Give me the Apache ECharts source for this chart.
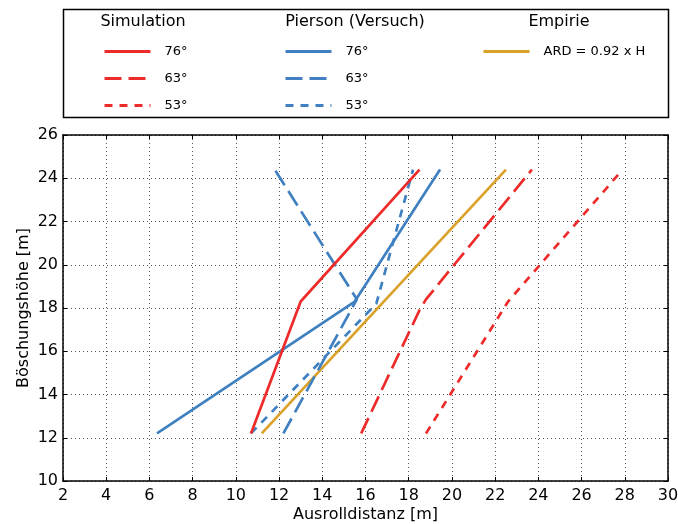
<!DOCTYPE html>
<html>
<head>
<meta charset="utf-8">
<script src="https://cdn.jsdelivr.net/npm/echarts@6/dist/echarts.min.js"></script>
<style>
  html, body { margin: 0; padding: 0; background: #fff; }
  #chart { width: 678px; height: 524px; }
</style>
</head>
<body>
<div id="chart"></div>
<script>
// Ausrolldistanz [m] vs Böschungshöhe [m]
const sim76 = [[10.7, 12.2], [13.0, 18.3], [18.5, 24.4]];
const sim63 = [[15.8, 12.2], [18.5, 17.9], [18.8, 18.4], [23.7, 24.4]];
const sim53 = [[18.8, 12.2], [22.6, 18.3], [27.9, 24.4]];
const pie76 = [[6.35, 12.2], [15.5, 18.3], [19.45, 24.4]];
const pie63 = [[12.2, 12.2], [15.6, 18.4], [11.8, 24.4]];
const pie53 = [[10.7, 12.2], [16.5, 18.2], [18.2, 24.4]];
const empirie = [[11.2, 12.2], [22.5, 24.4]];

const xTicks = [2, 30, 2]; // min, max, step
const yTicks = [10, 26, 2];

const RED = "#ee2b2b";
const BLUE = "#4080c0";
const GOLD = "#daa12b";
const FONT = "DejaVu Sans";
const LONG_DASH = [17, 7];
const SHORT_DASH = [8, 7];

const chart = echarts.init(document.getElementById("chart"));

function lineSeries(name, data, color, dash) {
  return {
    name: name,
    type: "line",
    data: data,
    symbol: "none",
    color: color,
    animation: false,
    lineStyle: { width: 2.7, color: color, type: dash, cap: "butt" },
  };
}

function legendBlock(names, left) {
  return {
    data: names,
    orient: "vertical",
    left: left,
    top: 45,
    padding: 0,
    itemWidth: 46,
    itemHeight: 14,
    itemGap: 14,
    itemStyle: { opacity: 0 },
    lineStyle: { width: 3 },
    formatter: (n) => n.slice(n.indexOf(" ") + 1),
    textStyle: { fontFamily: FONT, fontSize: 13, color: "#000", padding: [0, 0, 0, 9] },
  };
}

const hiddenAxis = {
  axisLine: { show: true, lineStyle: { color: "#000", width: 1.5 } },
  axisTick: { show: true, inside: true, length: 4, lineStyle: { color: "#000" } },
  axisLabel: { show: false },
  splitLine: { show: false },
};

chart.setOption({
  backgroundColor: "#fff",
  textStyle: { fontFamily: FONT },
  grid: { left: 63, right: 10, top: 135, bottom: 43, outerBoundsMode: "none" },
  graphic: [
    {
      type: "rect",
      shape: { x: 63.5, y: 9.5, width: 605, height: 108 },
      style: { fill: "none", stroke: "#000", lineWidth: 1.5 },
    },
    { type: "text", x: 143, y: 22, style: { text: "Simulation", fontFamily: FONT, fontSize: 16, fill: "#000", align: "center", verticalAlign: "middle" } },
    { type: "text", x: 355, y: 22, style: { text: "Pierson (Versuch)", fontFamily: FONT, fontSize: 16, fill: "#000", align: "center", verticalAlign: "middle" } },
    { type: "text", x: 559, y: 22, style: { text: "Empirie", fontFamily: FONT, fontSize: 16, fill: "#000", align: "center", verticalAlign: "middle" } },
  ],
  legend: [
    legendBlock(["Simulation 76°", "Simulation 63°", "Simulation 53°"], 103),
    legendBlock(["Pierson 76°", "Pierson 63°", "Pierson 53°"], 284),
    legendBlock(["Empirie ARD = 0.92 x H"], 482),
  ],
  xAxis: [
    {
      type: "value",
      min: xTicks[0],
      max: xTicks[1],
      interval: xTicks[2],
      name: "Ausrolldistanz [m]",
      nameLocation: "middle",
      nameGap: 26,
      nameMoveOverlap: false,
      nameTextStyle: { fontFamily: FONT, fontSize: 16, color: "#000" },
      axisLine: { show: true, lineStyle: { color: "#000", width: 1.5 } },
      axisTick: { show: true, inside: true, length: 4, lineStyle: { color: "#000" } },
      axisLabel: { fontFamily: FONT, fontSize: 16, color: "#000", margin: 7 },
      splitLine: { show: true, lineStyle: { color: "#555", width: 1, type: [1, 3] } },
    },
    Object.assign({ type: "value", position: "top", min: xTicks[0], max: xTicks[1], interval: xTicks[2] }, hiddenAxis),
  ],
  yAxis: [
    {
      type: "value",
      min: yTicks[0],
      max: yTicks[1],
      interval: yTicks[2],
      name: "Böschungshöhe [m]",
      nameLocation: "middle",
      nameGap: 31,
      nameMoveOverlap: false,
      nameTextStyle: { fontFamily: FONT, fontSize: 16, color: "#000" },
      axisLine: { show: true, lineStyle: { color: "#000", width: 1.5 } },
      axisTick: { show: true, inside: true, length: 4, lineStyle: { color: "#000" } },
      axisLabel: { fontFamily: FONT, fontSize: 16, color: "#000", margin: 5 },
      splitLine: { show: true, lineStyle: { color: "#555", width: 1, type: [1, 3] } },
    },
    Object.assign({ type: "value", position: "right", min: yTicks[0], max: yTicks[1], interval: yTicks[2] }, hiddenAxis),
  ],
  series: [
    lineSeries("Empirie ARD = 0.92 x H", empirie, GOLD, "solid"),
    lineSeries("Pierson 76°", pie76, BLUE, "solid"),
    lineSeries("Pierson 63°", pie63, BLUE, LONG_DASH),
    lineSeries("Pierson 53°", pie53, BLUE, SHORT_DASH),
    lineSeries("Simulation 76°", sim76, RED, "solid"),
    lineSeries("Simulation 63°", sim63, RED, LONG_DASH),
    lineSeries("Simulation 53°", sim53, RED, SHORT_DASH),
  ],
});
</script>
</body>
</html>
